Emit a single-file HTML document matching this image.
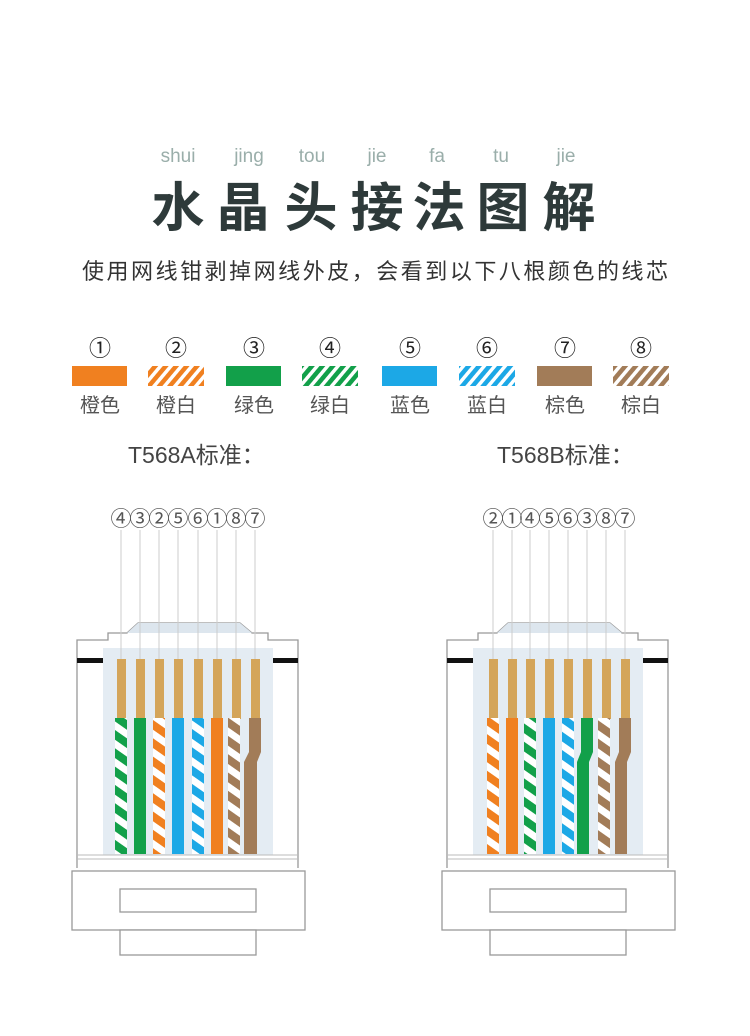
<!DOCTYPE html>
<html><head><meta charset="utf-8"><style>
html,body{margin:0;padding:0;background:#fff;}
svg{display:block;}
text{font-family:"Liberation Sans","Noto Sans CJK SC",sans-serif;}
</style></head><body>
<svg width="750" height="1036" viewBox="0 0 750 1036" xmlns="http://www.w3.org/2000/svg">
<defs>
<pattern id="pO" width="8" height="8" patternUnits="userSpaceOnUse" patternTransform="rotate(40)"><rect width="8" height="8" fill="#fff"/><rect width="4.5" height="8" fill="#f08020"/></pattern>
<pattern id="pG" width="8" height="8" patternUnits="userSpaceOnUse" patternTransform="rotate(40)"><rect width="8" height="8" fill="#fff"/><rect width="4.5" height="8" fill="#12a04a"/></pattern>
<pattern id="pB" width="8" height="8" patternUnits="userSpaceOnUse" patternTransform="rotate(40)"><rect width="8" height="8" fill="#fff"/><rect width="4.5" height="8" fill="#1ca8e6"/></pattern>
<pattern id="pN" width="8" height="8" patternUnits="userSpaceOnUse" patternTransform="rotate(40)"><rect width="8" height="8" fill="#fff"/><rect width="4.5" height="8" fill="#a27c58"/></pattern>
<pattern id="wO" width="15" height="15" patternUnits="userSpaceOnUse" patternTransform="rotate(-55)"><rect width="15" height="15" fill="#fff"/><rect width="8" height="15" fill="#f08020"/></pattern>
<pattern id="wG" width="15" height="15" patternUnits="userSpaceOnUse" patternTransform="rotate(-55)"><rect width="15" height="15" fill="#fff"/><rect width="8" height="15" fill="#12a04a"/></pattern>
<pattern id="wB" width="15" height="15" patternUnits="userSpaceOnUse" patternTransform="rotate(-55)"><rect width="15" height="15" fill="#fff"/><rect width="8" height="15" fill="#1ca8e6"/></pattern>
<pattern id="wN" width="15" height="15" patternUnits="userSpaceOnUse" patternTransform="rotate(-55)"><rect width="15" height="15" fill="#fff"/><rect width="8" height="15" fill="#a27c58"/></pattern>
<g id="conn">
  <path d="M77,868 L77,640 L108,640 L108,633 L127,633 L138,623 L240,623 L252,633 L268,633 L268,640 L298,640 L298,868" fill="#fff" stroke="#999" stroke-width="1.3"/>
  <path d="M127,633 L138,623 L240,623 L252,633 Z" fill="#dde6ee"/>
  <rect x="103" y="648" width="170" height="207" fill="#e4ecf3"/>
  <rect x="77" y="658" width="26" height="5" fill="#111"/>
  <rect x="273" y="658" width="25" height="5" fill="#111"/>
  <line x1="77" y1="855" x2="298" y2="855" stroke="#bbb"/>
  <line x1="77" y1="859" x2="298" y2="859" stroke="#bbb"/>
  <rect x="72" y="871" width="233" height="59" fill="#fff" stroke="#999" stroke-width="1.3"/>
  <rect x="120" y="889" width="136" height="23" fill="#fff" stroke="#999" stroke-width="1.3"/>
  <rect x="120" y="930" width="136" height="25" fill="#fff" stroke="#999" stroke-width="1.3"/>
</g>
</defs>

<g font-size="19" fill="#9aaeaa" text-anchor="middle">
<text x="178" y="162">shui</text><text x="249" y="162">jing</text><text x="312" y="162">tou</text><text x="377" y="162">jie</text><text x="437" y="162">fa</text><text x="501" y="162">tu</text><text x="566" y="162">jie</text>
</g>
<g font-size="53" font-weight="bold" fill="#2e3a3a" text-anchor="middle">
<text x="178" y="226">水</text><text x="243" y="226">晶</text><text x="311" y="226">头</text><text x="377" y="226">接</text><text x="439" y="226">法</text><text x="503" y="226">图</text><text x="569" y="226">解</text>
</g>
<text x="375" y="279" font-size="22" fill="#333" text-anchor="middle" textLength="586">使用网线钳剥掉网线外皮，会看到以下八根颜色的线芯</text>

<g font-size="22" fill="#222" text-anchor="middle">
<text x="100" y="356">①</text><text x="176" y="356">②</text><text x="254" y="356">③</text><text x="330" y="356">④</text><text x="410" y="356">⑤</text><text x="487" y="356">⑥</text><text x="565" y="356">⑦</text><text x="641" y="356">⑧</text>
</g>
<rect x="72" y="366" width="55" height="20" fill="#f08020"/>
<rect x="148" y="366" width="56" height="20" fill="url(#pO)"/>
<rect x="226" y="366" width="55" height="20" fill="#12a04a"/>
<rect x="302" y="366" width="56" height="20" fill="url(#pG)"/>
<rect x="382" y="366" width="55" height="20" fill="#1ca8e6"/>
<rect x="459" y="366" width="56" height="20" fill="url(#pB)"/>
<rect x="537" y="366" width="55" height="20" fill="#a27c58"/>
<rect x="613" y="366" width="56" height="20" fill="url(#pN)"/>
<g font-size="20" fill="#555" text-anchor="middle">
<text x="100" y="412">橙色</text><text x="176" y="412">橙白</text><text x="254" y="412">绿色</text><text x="330" y="412">绿白</text><text x="410" y="412">蓝色</text><text x="487" y="412">蓝白</text><text x="565" y="412">棕色</text><text x="641" y="412">棕白</text>
</g>

<text x="128" y="463" font-size="23" fill="#444">T568A标准：</text>
<text x="497" y="463" font-size="23" fill="#444">T568B标准：</text>

<use href="#conn"/>
<g stroke="#ccc" stroke-width="1">
<line x1="121" y1="530" x2="121" y2="660"/><line x1="140" y1="530" x2="140" y2="660"/><line x1="159" y1="530" x2="159" y2="660"/><line x1="178" y1="530" x2="178" y2="660"/><line x1="198" y1="530" x2="198" y2="660"/><line x1="217" y1="530" x2="217" y2="660"/><line x1="236" y1="530" x2="236" y2="660"/><line x1="255" y1="530" x2="255" y2="660"/>
</g>
<g font-size="21" fill="#555" text-anchor="middle">
<text x="121" y="526">④</text><text x="140" y="526">③</text><text x="159" y="526">②</text><text x="178" y="526">⑤</text><text x="198" y="526">⑥</text><text x="217" y="526">①</text><text x="236" y="526">⑧</text><text x="255" y="526">⑦</text>
</g>
<g fill="#d4a55a">
<rect x="117" y="659" width="9" height="60"/><rect x="136" y="659" width="9" height="60"/><rect x="155" y="659" width="9" height="60"/><rect x="174" y="659" width="9" height="60"/><rect x="194" y="659" width="9" height="60"/><rect x="213" y="659" width="9" height="60"/><rect x="232" y="659" width="9" height="60"/><rect x="251" y="659" width="9" height="60"/>
</g>
<rect x="115" y="718" width="12" height="136" fill="url(#wG)"/>
<rect x="134" y="718" width="12" height="136" fill="#12a04a"/>
<rect x="153" y="718" width="12" height="136" fill="url(#wO)"/>
<rect x="172" y="718" width="12" height="136" fill="#1ca8e6"/>
<rect x="192" y="718" width="12" height="136" fill="url(#wB)"/>
<rect x="211" y="718" width="12" height="136" fill="#f08020"/>
<rect x="228" y="718" width="12" height="136" fill="url(#wN)"/>
<path d="M249,718 L261,718 L261,752 L257,762 L257,854 L244,854 L244,762 L249,752 Z" fill="#a27c58"/>

<use href="#conn" x="370"/>
<g stroke="#ccc" stroke-width="1">
<line x1="493" y1="530" x2="493" y2="660"/><line x1="512" y1="530" x2="512" y2="660"/><line x1="530" y1="530" x2="530" y2="660"/><line x1="549" y1="530" x2="549" y2="660"/><line x1="568" y1="530" x2="568" y2="660"/><line x1="587" y1="530" x2="587" y2="660"/><line x1="606" y1="530" x2="606" y2="660"/><line x1="625" y1="530" x2="625" y2="660"/>
</g>
<g font-size="21" fill="#555" text-anchor="middle">
<text x="493" y="526">②</text><text x="512" y="526">①</text><text x="530" y="526">④</text><text x="549" y="526">⑤</text><text x="568" y="526">⑥</text><text x="587" y="526">③</text><text x="606" y="526">⑧</text><text x="625" y="526">⑦</text>
</g>
<g fill="#d4a55a">
<rect x="489" y="659" width="9" height="60"/><rect x="508" y="659" width="9" height="60"/><rect x="526" y="659" width="9" height="60"/><rect x="545" y="659" width="9" height="60"/><rect x="564" y="659" width="9" height="60"/><rect x="583" y="659" width="9" height="60"/><rect x="602" y="659" width="9" height="60"/><rect x="621" y="659" width="9" height="60"/>
</g>
<rect x="487" y="718" width="12" height="136" fill="url(#wO)"/>
<rect x="506" y="718" width="12" height="136" fill="#f08020"/>
<rect x="524" y="718" width="12" height="136" fill="url(#wG)"/>
<rect x="543" y="718" width="12" height="136" fill="#1ca8e6"/>
<rect x="562" y="718" width="12" height="136" fill="url(#wB)"/>
<path d="M581,718 L593,718 L593,752 L589,762 L589,854 L577,854 L577,762 L581,752 Z" fill="#12a04a"/>
<rect x="598" y="718" width="12" height="136" fill="url(#wN)"/>
<path d="M619,718 L631,718 L631,752 L627,762 L627,854 L615,854 L615,762 L619,752 Z" fill="#a27c58"/>
</svg>
</body></html>
